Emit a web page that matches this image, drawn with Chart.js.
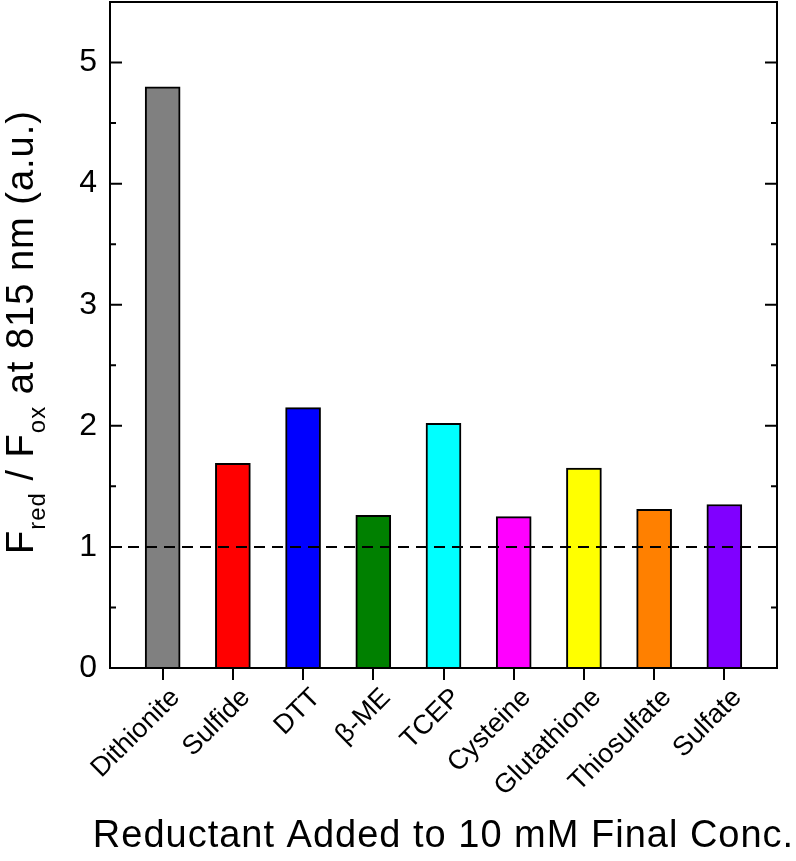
<!DOCTYPE html>
<html>
<head>
<meta charset="utf-8">
<script src="https://cdn.jsdelivr.net/npm/chart.js@4"></script>
<style>
  html, body { margin: 0; padding: 0; background: #fff; }
  #wrap { width: 796px; height: 861px; }
</style>
</head>
<body>
<div id="wrap"><canvas id="myChart" width="796" height="861"></canvas></div>
<script>
const categories = ['Dithionite', 'Sulfide', 'DTT', 'β-ME', 'TCEP', 'Cysteine', 'Glutathione', 'Thiosulfate', 'Sulfate'];
const ratios = [4.80, 1.69, 2.15, 1.26, 2.02, 1.25, 1.65, 1.31, 1.35];
const barColors = ['#808080', '#ff0000', '#0000ff', '#008000', '#00ffff', '#ff00ff', '#ffff00', '#ff8000', '#8000ff'];
const yTicks = [0, 1, 2, 3, 4, 5];
const yMinorTicks = [0.5, 1.5, 2.5, 3.5, 4.5];
const refLevel = 1;

const FONT = 'Arial, "Liberation Sans", sans-serif';

// frame, inward y ticks, outward x ticks, dashed reference line, axis titles
const framePlugin = {
    id: 'frame',
    afterDraw(chart) {
        const ctx = chart.ctx
        const a = chart.chartArea
        const y = chart.scales.y
        const xs = chart.scales.x
        ctx.save()
        ctx.strokeStyle = '#000'
        ctx.lineWidth = 2
        ctx.setLineDash([11, 7])
        const yr = y.getPixelForValue(refLevel)
        ctx.beginPath()
        ctx.moveTo(a.left, yr)
        ctx.lineTo(a.right, yr)
        ctx.stroke()
        ctx.setLineDash([])
        ctx.strokeRect(a.left, a.top, a.right - a.left, a.bottom - a.top)
        ctx.beginPath()
        yTicks.forEach(v => {
            const p = y.getPixelForValue(v)
            ctx.moveTo(a.left, p); ctx.lineTo(a.left + 12, p)
            ctx.moveTo(a.right, p); ctx.lineTo(a.right - 12, p)
        })
        yMinorTicks.forEach(v => {
            const p = y.getPixelForValue(v)
            ctx.moveTo(a.left, p); ctx.lineTo(a.left + 6, p)
            ctx.moveTo(a.right, p); ctx.lineTo(a.right - 6, p)
        })
        categories.forEach((c, i) => {
            const p = Math.round(xs.getPixelForValue(i + 1))
            ctx.moveTo(p, a.bottom); ctx.lineTo(p, a.bottom + 12)
        })
        ctx.stroke()

        ctx.fillStyle = '#000'
        ctx.textBaseline = 'alphabetic'
        ctx.letterSpacing = '1px'

        // x title
        ctx.font = '38px ' + FONT
        ctx.textAlign = 'center'
        ctx.fillText('Reductant Added to 10 mM Final Conc.', (a.left + a.right) / 2, 847)

        // y title with subscripts
        const parts = [
            ['F', false], ['red', true], [' / F', false], ['ox', true], [' at 815 nm (a.u.)', false]
        ]
        const big = '38px ' + FONT, small = '24px ' + FONT
        ctx.textAlign = 'left'
        let total = 0
        parts.forEach(p => { ctx.font = p[1] ? small : big; total += ctx.measureText(p[0]).width })
        ctx.translate(33, 332)
        ctx.rotate(-Math.PI / 2)
        let x = -total / 2
        parts.forEach(p => {
            ctx.font = p[1] ? small : big
            ctx.fillText(p[0], x, p[1] ? 12 : 0)
            x += ctx.measureText(p[0]).width
        })
        ctx.restore()
    }
}

const ctx = document.getElementById('myChart').getContext('2d');
const myChart = new Chart(ctx, {
    type: 'bar',
    data: {
        datasets: [{
            data: categories.map((c, i) => ({ x: i + 1, y: ratios[i] })),
            backgroundColor: barColors,
            borderColor: '#000',
            borderWidth: 2,
            barThickness: 35
        }]
    },
    options: {
        responsive: false,
        animation: false,
        layout: { padding: { top: 2, right: 19, left: 0, bottom: 0 } },
        plugins: { legend: { display: false }, tooltip: { enabled: false } },
        scales: {
            x: {
                type: 'linear',
                offset: false,
                min: 0.25,
                max: 9.75,
                afterBuildTicks: s => { s.ticks = categories.map((c, i) => ({ value: i + 1 })) },
                afterFit: s => { s.height = 193; s.paddingLeft = 0; s.paddingRight = 0 },
                ticks: {
                    callback: v => categories[v - 1],
                    autoSkip: false,
                    minRotation: 45,
                    maxRotation: 45,
                    color: '#000',
                    padding: 2,
                    labelOffset: 13,
                    font: { family: FONT, size: 27 }
                },
                grid: { offset: false, drawOnChartArea: false, drawTicks: true, tickLength: 12, color: '#000', lineWidth: 2 },
                border: { display: false }
            },
            y: {
                min: 0,
                max: 5.5,
                afterBuildTicks: s => { s.ticks = yTicks.map(v => ({ value: v })) },
                afterFit: s => { s.width = 110; s.paddingTop = 0; s.paddingBottom = 0 },
                ticks: {
                    color: '#000',
                    padding: 13,
                    font: { family: FONT, size: 32 }
                },
                grid: { display: false, drawTicks: false },
                border: { display: false }
            }
        }
    },
    plugins: [framePlugin]
});
</script>
</body>
</html>
